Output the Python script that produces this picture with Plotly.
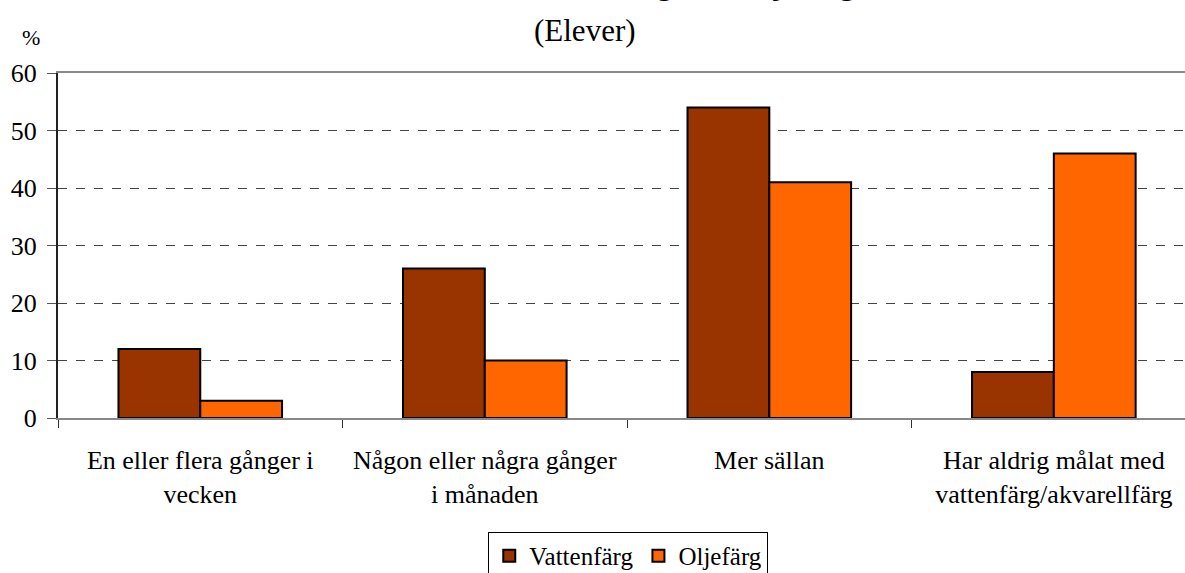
import plotly.graph_objects as go

# Data
categories = [
    "En eller flera gånger i<br>vecken",
    "Någon eller några gånger<br>i månaden",
    "Mer sällan",
    "Har aldrig målat med<br>vattenfärg/akvarellfärg",
]
vattenfarg = [12, 26, 54, 8]
oljefarg = [3, 10, 41, 46]
y_ticks = [0, 10, 20, 30, 40, 50, 60]

font_family = "Liberation Serif, Times New Roman, serif"

fig = go.Figure()

fig.add_trace(go.Bar(
    x=categories,
    y=vattenfarg,
    name="Vattenfärg",
    marker=dict(color="#993300", line=dict(color="black", width=2)),
))
fig.add_trace(go.Bar(
    x=categories,
    y=oljefarg,
    name="Oljefärg",
    marker=dict(color="#FF6600", line=dict(color="black", width=2)),
))

# Titel (första raden ligger nästan helt utanför bilden, som i originalet)
fig.add_annotation(
    text="<b>Har målat med vattenfärg eller oljefärg</b>",
    xref="paper", yref="paper", x=0.468, y=1.262,
    xanchor="center", yanchor="middle", showarrow=False,
    font=dict(family=font_family, size=32, color="black"),
)
fig.add_annotation(
    text="(Elever)",
    xref="paper", yref="paper", x=0.468, y=1.122,
    xanchor="center", yanchor="middle", showarrow=False,
    font=dict(family=font_family, size=31, color="black"),
)
fig.add_annotation(
    text="%",
    xref="paper", yref="paper", x=-0.024, y=1.104,
    xanchor="center", yanchor="middle", showarrow=False,
    font=dict(family=font_family, size=22, color="black"),
)

fig.update_layout(
    width=1185,
    height=573,
    barmode="group",
    bargap=0.425,
    bargroupgap=0,
    plot_bgcolor="white",
    paper_bgcolor="white",
    font=dict(family=font_family, size=26, color="black"),
    margin=dict(l=58, r=0, t=73, b=155),
    showlegend=True,
    legend=dict(
        orientation="h",
        xref="paper", x=0.506, xanchor="center",
        yref="container", y=0.0716, yanchor="top",
        bordercolor="black", borderwidth=1,
        font=dict(family=font_family, size=25, color="black"),
        itemwidth=30,
    ),
)

fig.update_xaxes(
    range=[-0.5, 3.461],
    automargin=False,
    showline=True, linecolor="#888888", linewidth=2, mirror=True,
    ticks="outside", tickson="boundaries", ticklen=8, tickcolor="#333333",
    ticklabelstandoff=18,
    tickfont=dict(family=font_family, size=26, color="black"),
    showgrid=False,
)
fig.update_yaxes(
    range=[0, 60],
    tickvals=y_ticks,
    automargin=False,
    showline=True, linecolor="#222222", linewidth=2,
    ticks="outside", ticklen=9, tickcolor="#555555",
    ticklabelstandoff=5,
    showgrid=True, gridcolor="#444444", griddash="dash", gridwidth=1,
    zeroline=False,
    tickfont=dict(family=font_family, size=26, color="black"),
)

# sidans standardmarginal bort, så att figuren börjar i hörnet
fig.write_html(
    "out.html",
    config={"displayModeBar": False},
    post_script="document.body.style.margin='0';",
)
